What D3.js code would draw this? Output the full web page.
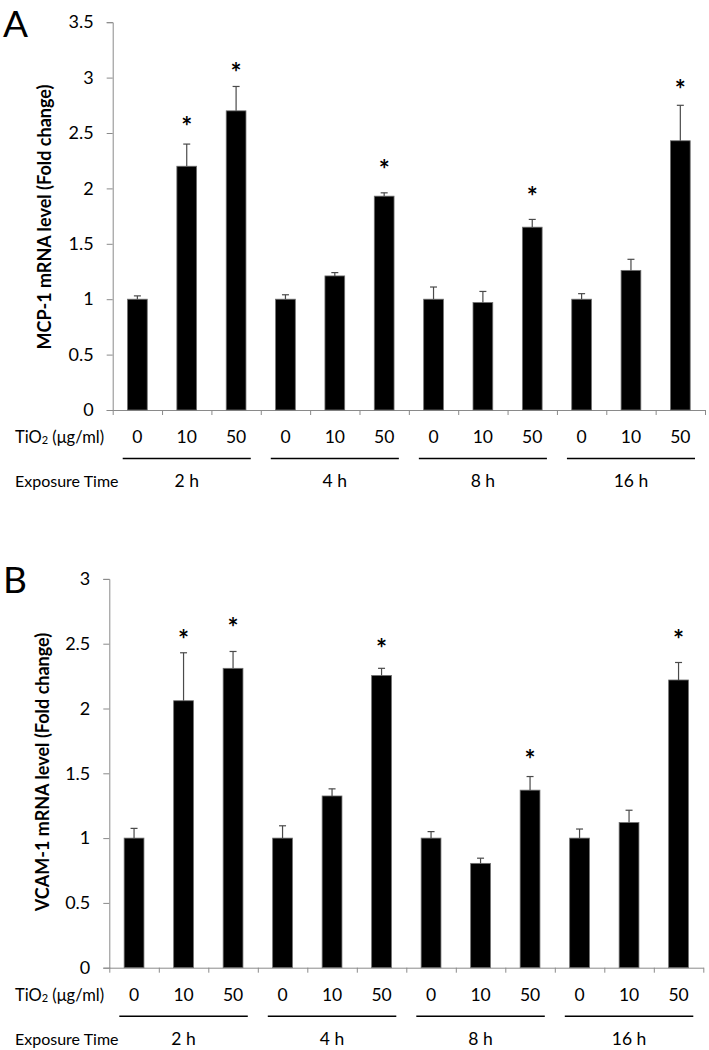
<!DOCTYPE html>
<html>
<head>
<meta charset="utf-8">
<script src="https://cdn.jsdelivr.net/npm/d3@7"></script>
<style>
  html, body { margin: 0; padding: 0; background: #fff; }
  svg { display: block; font-family: Lato, "Open Sans", sans-serif; }
</style>
</head>
<body>
<svg id="chart" width="709" height="1050"></svg>
<script>
// ---------- DATA ----------
const doseLabels = ["0", "10", "50"];
const timeLabels = ["2 h", "4 h", "8 h", "16 h"];
const categories = ["2h-0","2h-10","2h-50","4h-0","4h-10","4h-50","8h-0","8h-10","8h-50","16h-0","16h-10","16h-50"];

// Panel A: MCP-1
const mcp1Values = [1.00, 2.20, 2.70, 1.00, 1.21, 1.93, 1.00, 0.97, 1.65, 1.00, 1.26, 2.43];
const mcp1ErrTop = [1.03, 2.40, 2.92, 1.04, 1.24, 1.96, 1.11, 1.07, 1.72, 1.05, 1.36, 2.75];
const mcp1Stars  = [null, 2.59, 3.08, null, null, 2.20, null, null, 1.96, null, null, 2.92];
const mcp1Ticks  = [0, 0.5, 1, 1.5, 2, 2.5, 3, 3.5];
const mcp1TickLabels = ["0", "0.5", "1", "1.5", "2", "2.5", "3", "3.5"];

// Panel B: VCAM-1
const vcam1Values = [1.00, 2.06, 2.31, 1.00, 1.325, 2.255, 1.00, 0.805, 1.37, 1.00, 1.12, 2.22];
const vcam1ErrTop = [1.075, 2.43, 2.44, 1.095, 1.38, 2.31, 1.05, 0.845, 1.475, 1.07, 1.215, 2.355];
const vcam1Stars  = [null, 2.56, 2.65, null, null, 2.49, null, null, 1.63, null, null, 2.56];
const vcam1Ticks  = [0, 0.5, 1, 1.5, 2, 2.5, 3];
const vcam1TickLabels = ["0", "0.5", "1", "1.5", "2", "2.5", "3"];

// ---------- LAYOUT ----------
const panels = [
  { letter: "A", title: "MCP-1 mRNA level  (Fold change)",
    values: mcp1Values, err: mcp1ErrTop, stars: mcp1Stars,
    ticks: mcp1Ticks, tickLabels: mcp1TickLabels, yMax: 3.5,
    x0: 112.7, x1: 705, yBottom: 410, yTop: 22.2, letterY: 37, titleX: 51, titleY: 217 },
  { letter: "B", title: "VCAM-1 mRNA level (Fold change)",
    values: vcam1Values, err: vcam1ErrTop, stars: vcam1Stars,
    ticks: vcam1Ticks, tickLabels: vcam1TickLabels, yMax: 3,
    x0: 109.3, x1: 703.3, yBottom: 967.7, yTop: 578.9, letterY: 593, titleX: 49, titleY: 772 }
];

const svg = d3.select("#chart");
const axisColor = "#8a8a8a";

panels.forEach(p => {
  const g = svg.append("g");
  const x = d3.scaleBand().domain(categories).range([p.x0, p.x1]).padding(0);
  const y = d3.scaleLinear().domain([0, p.yMax]).range([p.yBottom, p.yTop]);
  const bw = x.bandwidth() * 0.4;
  const cx = c => x(c) + x.bandwidth() / 2;

  // panel letter
  g.append("text").attr("x", 3).attr("y", p.letterY)
    .attr("font-size", 37).attr("fill", "#000").text(p.letter);

  // y-axis title
  g.append("text")
    .attr("transform", `translate(${p.titleX},${p.titleY}) rotate(-90)`)
    .attr("text-anchor", "middle").attr("font-size", 18).attr("font-weight", "bold")
    .attr("fill", "#000").text(p.title);

  // y axis
  const yAxis = d3.axisLeft(y).tickValues(p.ticks)
    .tickFormat((d, i) => p.tickLabels[i]).tickSize(6).tickPadding(13);
  const ya = g.append("g").attr("transform", `translate(${p.x0},0)`).call(yAxis);
  ya.selectAll("path, line").attr("stroke", axisColor);
  ya.selectAll("text").attr("font-size", 18).attr("fill", "#000")
    .attr("font-family", "Lato, sans-serif");

  // x axis with boundary ticks
  const xb = d3.scaleLinear().domain([0, categories.length]).range([p.x0, p.x1]);
  const xAxis = d3.axisBottom(xb).tickValues(d3.range(categories.length + 1))
    .tickFormat("").tickSize(5).tickSizeOuter(0);
  const xa = g.append("g").attr("transform", `translate(0,${p.yBottom})`).call(xAxis);
  xa.selectAll("path, line").attr("stroke", axisColor);

  // bars
  g.selectAll("rect.bar").data(categories).join("rect")
    .attr("class", "bar")
    .attr("x", c => cx(c) - bw / 2)
    .attr("width", bw)
    .attr("y", (c, i) => y(p.values[i]))
    .attr("height", (c, i) => y(0) - y(p.values[i]))
    .attr("fill", "#000").attr("stroke", "#707070").attr("stroke-width", 0.8);

  // error bars (upper)
  const eg = g.append("g").attr("stroke", "#4a4a4a").attr("stroke-width", 1.2);
  eg.selectAll("line.stem").data(categories).join("line")
    .attr("x1", c => cx(c)).attr("x2", c => cx(c))
    .attr("y1", (c, i) => y(p.values[i])).attr("y2", (c, i) => y(p.err[i]));
  eg.selectAll("line.cap").data(categories).join("line")
    .attr("x1", c => cx(c) - 3.5).attr("x2", c => cx(c) + 3.5)
    .attr("y1", (c, i) => y(p.err[i])).attr("y2", (c, i) => y(p.err[i]));

  // significance stars
  g.selectAll("text.star").data(categories.filter((c, i) => p.stars[i] != null)).join("text")
    .attr("class", "star")
    .attr("x", c => cx(c))
    .attr("y", c => y(p.stars[categories.indexOf(c)]) + 13)
    .attr("text-anchor", "middle").attr("font-size", 26).attr("font-weight", "bold")
    .attr("fill", "#000").text("*");

  // dose labels
  const rowY = p.yBottom + 27;
  g.selectAll("text.dose").data(categories).join("text")
    .attr("class", "dose")
    .attr("x", c => cx(c)).attr("y", rowY + 6)
    .attr("text-anchor", "middle").attr("font-size", 17.5).attr("fill", "#000")
    .text((c, i) => doseLabels[i % doseLabels.length]);

  const tio = g.append("text").attr("x", 15).attr("y", rowY + 6)
    .attr("font-size", 16.5).attr("fill", "#000");
  tio.append("tspan").text("TiO");
  tio.append("tspan").attr("font-size", 11).attr("dy", 1).text("2");
  tio.append("tspan").attr("dy", -1).text(" (μg/ml)");

  // group lines
  const per = doseLabels.length;
  const lineY = p.yBottom + 48.5;
  const groups = timeLabels.map((t, gi) => ({
    t, first: categories[gi * per], last: categories[gi * per + per - 1]
  }));
  g.selectAll("line.grp").data(groups).join("line")
    .attr("x1", d => x(d.first) + 10).attr("x2", d => x(d.last) + x.bandwidth() - 10)
    .attr("y1", lineY).attr("y2", lineY)
    .attr("stroke", "#000").attr("stroke-width", 1.4);

  // exposure time labels
  const expY = p.yBottom + 71;
  g.append("text").attr("x", 15).attr("y", expY + 6)
    .attr("font-size", 16).attr("fill", "#000").text("Exposure  Time");
  g.selectAll("text.time").data(groups).join("text")
    .attr("class", "time")
    .attr("x", d => (x(d.first) + x(d.last) + x.bandwidth()) / 2)
    .attr("y", expY + 6)
    .attr("text-anchor", "middle").attr("font-size", 17.5).attr("fill", "#000")
    .text(d => d.t);
});
</script>
</body>
</html>
